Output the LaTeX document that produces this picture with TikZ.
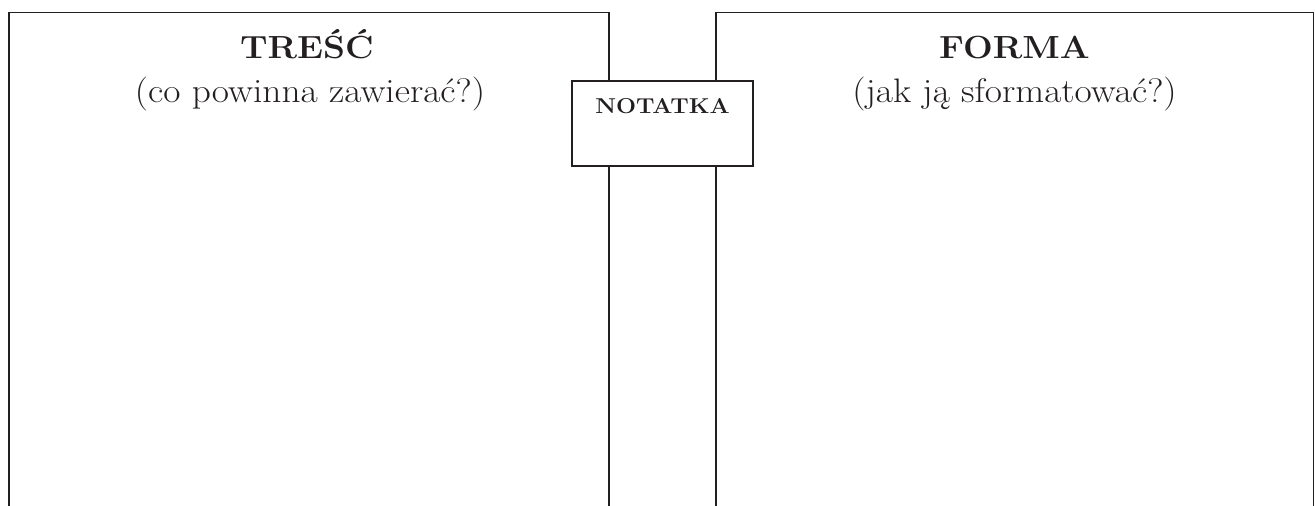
\documentclass[tikz,border=0pt]{standalone}
\usepackage{fontspec}
\setmainfont{Latin Modern Roman}[FakeStretch=1.1]
\definecolor{ink}{HTML}{231F20}
\tikzset{
  frame/.style={draw=ink, line width=1.4pt},
  notebox/.style={draw=ink, line width=2.6pt, fill=white, minimum width=181pt, minimum height=85pt, inner sep=0pt},
  headtxt/.style={anchor=base, text=ink, font=\fontsize{32}{37}\selectfont\bfseries, inner sep=0pt},
  subtxt/.style={anchor=base, text=ink, font=\fontsize{34}{39}\selectfont, inner sep=0pt},
  notetxt/.style={anchor=base, text=ink, font=\fontsize{21.5}{25}\selectfont\bfseries, inner sep=0pt}
}
\begin{document}
\begin{tikzpicture}[x=1pt,y=-1pt]
\useasboundingbox (0,0) rectangle (1315,506);
% left frame (open at bottom)
\draw[frame] (9,506) -- (9,12.5) -- (609,12.5) -- (609,506);
% right frame (open at bottom)
\draw[frame] (716,506) -- (716,12.5) -- (1313.5,12.5) -- (1313.5,506);
% central note box
\node[notebox] (note) at (662.5,123.5) {};
\node[notetxt] (notelbl) at (662.5,113.5) {NOTATKA};
% headings
\node[headtxt] (tresc) at (307,58.5) {TREŚĆ};
\node[subtxt] (trescq) at (310,102.5) {(co powinna zawierać?)};
\node[headtxt] (forma) at (1014.5,58.5) {FORMA};
\node[subtxt] (formaq) at (1014.5,102.5) {(jak ją sformatować?)};
\end{tikzpicture}
\end{document}
